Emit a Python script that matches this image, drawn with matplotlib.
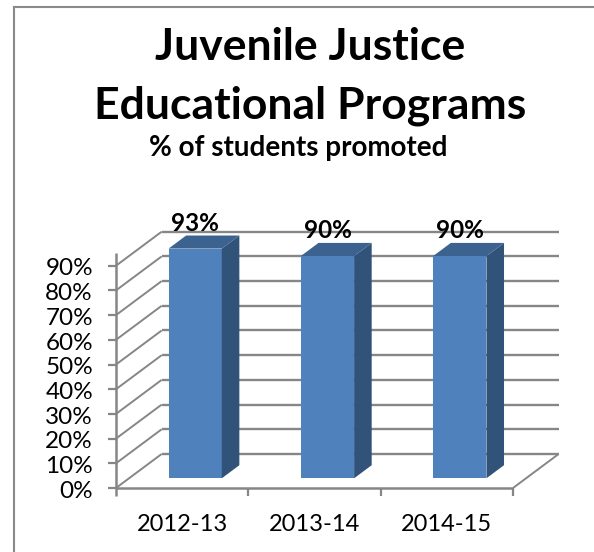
import matplotlib
matplotlib.use("Agg")
import matplotlib.pyplot as plt
from matplotlib.patches import Polygon

plt.rcParams['font.family'] = ['Lato', 'DejaVu Sans']

categories = ['2012-13', '2013-14', '2014-15']
values = [93, 90, 90]
labels = ['93%', '90%', '90%']
yticks = [0, 10, 20, 30, 40, 50, 60, 70, 80, 90]
ytick_labels = ['0%', '10%', '20%', '30%', '40%', '50%', '60%', '70%', '80%', '90%']

W, H = 594, 552
fig = plt.figure(figsize=(W / 100, H / 100), dpi=100, facecolor='white')

def box(x0, y0, x1, y1):
    return [x0 / W, 1 - y1 / H, (x1 - x0) / W, (y1 - y0) / H]

# Front plane of the 3-D plot
ax = fig.add_axes(box(116, 241, 513, 488))
ax.set_xlim(0, 3)
ax.set_ylim(0, 100)
ax.axis('off')

GRID = '#868686'
DX, DY = 0.345, 13.77      # full floor depth, data units
T0, T1 = 0.285, 0.67       # bar depth range
BW = 0.402
FRONT, TOP, SIDE = '#4f81bd', '#3c6290', '#325379'
kw = dict(clip_on=False, solid_capstyle='butt')

for v in yticks:
    ax.plot([0, DX], [v, v + DY], color=GRID, lw=1.4, zorder=1, **kw)
    ax.plot([DX, 3 + DX], [v + DY, v + DY], color=GRID, lw=1.7, zorder=1, **kw)
    ax.plot([-0.06, 0], [v, v], color=GRID, lw=1.6, zorder=2, **kw)
    ax.text(-0.174, v - 1.3, ytick_labels[v // 10], ha='right', va='center', fontsize=17.5, color='black', clip_on=False)

ax.plot([0, 0], [-3.4, 95], color=GRID, lw=1.8, zorder=2, **kw)
ax.plot([0, 3], [0, 0], color=GRID, lw=1.8, zorder=2, **kw)
ax.plot([3, 3 + DX], [0, DY], color=GRID, lw=1.4, zorder=1, **kw)
for i in range(1, 4):
    ax.plot([i, i], [-3.4, 0], color=GRID, lw=1.6, zorder=2, **kw)

for i, (cat, v, lab) in enumerate(zip(categories, values, labels)):
    xc = i + 0.5
    x0 = xc - BW / 2 + T0 * DX
    x1 = x0 + BW
    y0 = T0 * DY
    y1 = v + T0 * DY
    ddx = (T1 - T0) * DX
    ddy = (T1 - T0) * DY
    ax.add_patch(Polygon([(x0, y0), (x1, y0), (x1, y1), (x0, y1)], fc=FRONT, ec='none', zorder=5, clip_on=False))
    ax.add_patch(Polygon([(x1, y0), (x1 + ddx, y0 + ddy), (x1 + ddx, y1 + ddy), (x1, y1)], fc=SIDE, ec='none', zorder=5, clip_on=False))
    ax.add_patch(Polygon([(x0, y1), (x1, y1), (x1 + ddx, y1 + ddy), (x0 + ddx, y1 + ddy)], fc=TOP, ec='none', zorder=5, clip_on=False))
    ax.text(xc + 0.098, y1 + ddy + 0.2, lab, ha='center', va='bottom', fontsize=17.5, fontweight='bold', color='black', zorder=6, clip_on=False)
    ax.text(xc, -14.6, cat, ha='center', va='center', fontsize=17, color='black', clip_on=False)

# Titles and chart-area border
fig.text(310 / W, 1 - 47 / H, 'Juvenile Justice', ha='center', va='center', fontsize=32, fontweight='bold')
fig.text(310 / W, 1 - 106 / H, 'Educational Programs', ha='center', va='center', fontsize=32, fontweight='bold')
fig.text(298 / W, 1 - 148 / H, '% of students promoted', ha='center', va='center', fontsize=20, fontweight='bold')

fig.add_artist(plt.Line2D([14 / W, 14 / W], [0, 1 - 7 / H], color='#8a8a8a', lw=1.5))
fig.add_artist(plt.Line2D([14 / W, 1], [1 - 7 / H, 1 - 7 / H], color='#8a8a8a', lw=1.5))

fig.savefig('out.png', dpi=100)
